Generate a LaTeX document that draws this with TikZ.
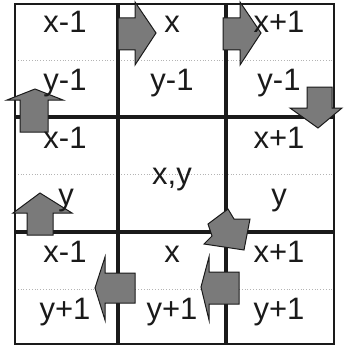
\documentclass[tikz,border=0pt]{standalone}
\usepackage{fontspec}
\setmainfont{Liberation Sans}
\usepackage{xcolor}
\usetikzlibrary{positioning}
\definecolor{ink}{HTML}{1A1A1A}
\definecolor{shade}{HTML}{7A7A7A}
\definecolor{dotline}{HTML}{B4B4B4}
\tikzset{
  border/.style   = {draw=ink, line width=2.2pt},
  gridline/.style = {draw=ink, line width=4pt},
  midline/.style  = {draw=dotline, line width=0.8pt, dotted},
  blk/.style      = {draw=ink, fill=shade, line width=1pt, line join=miter},
  lab/.style      = {font=\fontsize{31}{32}\selectfont, text=ink, anchor=base, inner sep=0pt, outer sep=0pt},
}
\begin{document}
\begin{tikzpicture}[x=1pt,y=-1pt]
\path[use as bounding box] (0,0) rectangle (343,345);

% ---- the grid -----------------------------------------------------------
\foreach \y in {60,174,289}{ \draw[midline] (15,\y) -- (334,\y); }
\draw[gridline] (118,4) -- (118,344);
\draw[gridline] (226,4) -- (226,344);
\draw[gridline] (15,117) -- (334,117);
\draw[gridline] (15,232) -- (334,232);
\draw[border] (15,4) rectangle (334,344);

% ---- the block arrows ---------------------------------------------------
\foreach \dx in {0,105}{%
  \draw[blk] (118+\dx,18) -- (135+\dx,18) -- (135+\dx,2) -- (156+\dx,33)
    -- (135+\dx,65) -- (135+\dx,50) -- (118+\dx,50) -- cycle;
}
\draw[blk] (307,87) -- (332,87) -- (332,108) -- (342,108) -- (318,128) -- (290,108) -- (307,108) -- cycle;
\draw[blk] (20,132) -- (20,100) -- (7,100) -- (35,89) -- (63,100) -- (48,100) -- (48,132) -- cycle;
\draw[blk] (27,235) -- (27,213) -- (13,213) -- (40,193) -- (72,213) -- (53,213) -- (53,235) -- cycle;
\draw[blk] (135,273) -- (135,303) -- (105,303) -- (105,320) -- (95,288) -- (105,257) -- (105,273) -- cycle;
\draw[blk] (239,272) -- (239,304) -- (209,304) -- (209,320) -- (201,287) -- (209,257) -- (209,272) -- cycle;
\draw[blk] (228,209) -- (234,219) -- (250,219) -- (244,250) -- (204,244) -- (212,236) -- (208,224) -- cycle;

% ---- the cell labels ----------------------------------------------------
\foreach \c/\cx/\xl in {l/65/x-1, m/172/x, r/279/x+1}{%
  \foreach \r/\ry/\yl in {t/0/y-1, b/229/y+1}{%
    \node[lab] (x\c\r) at (\cx,33+\ry) {\xl};
    \node[lab] (y\c\r) at (\cx,90+\ry) {\yl};
  }
}
\node[lab] (xlm) at (65,148) {x-1};
\node[lab] (ylm) at (66,205) {y};
\node[lab] (xrm) at (279,148) {x+1};
\node[lab] (yrm) at (279,205) {y};
\node[lab] (xymm) at (172,184) {x,y};

\end{tikzpicture}
\end{document}
